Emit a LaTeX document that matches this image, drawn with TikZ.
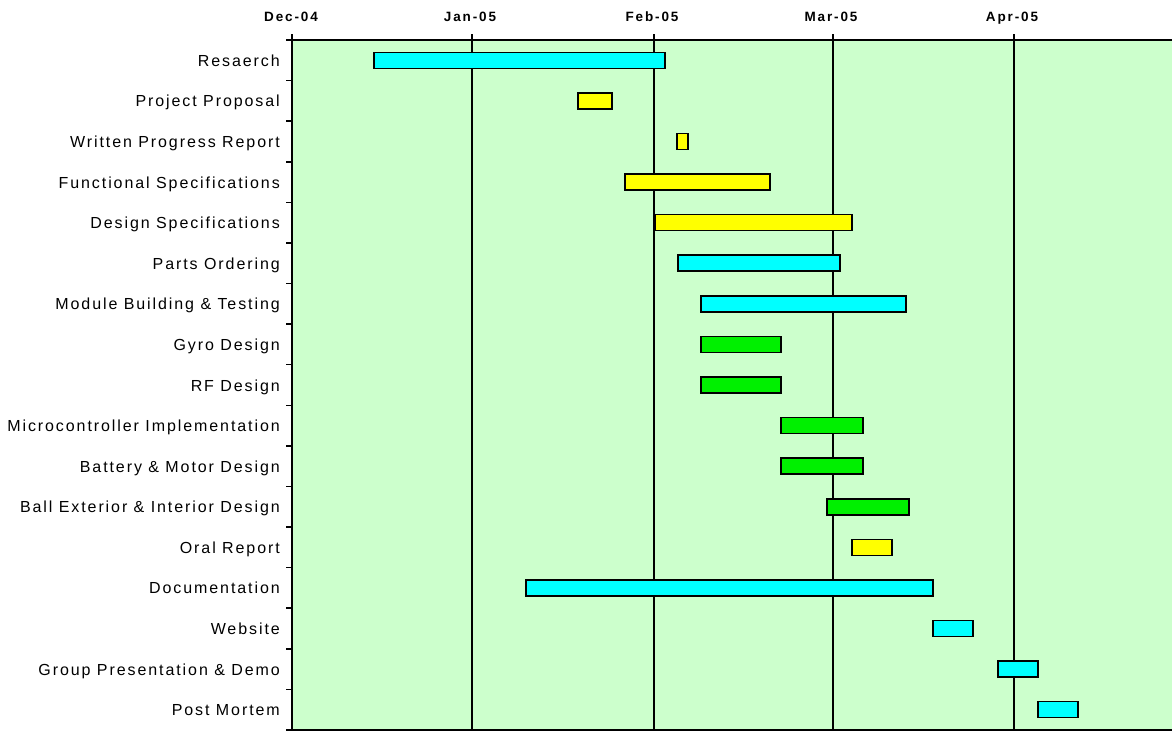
\documentclass[tikz,border=0pt]{standalone}
\usepackage{fontspec}
\setmainfont{Liberation Sans}
\newfontfamily\labfont[LetterSpace=12]{Liberation Sans}
\newfontfamily\monfont[LetterSpace=14]{Liberation Sans}
\definecolor{bgreen}{HTML}{CCFFCC}
\definecolor{bcyan}{HTML}{00FFFF}
\definecolor{byellow}{HTML}{FFFF00}
\definecolor{bgr}{HTML}{00F000}
\tikzset{
  barbox/.style={draw=black, line width=1.5pt, minimum height=16pt, inner sep=0pt, anchor=west},
  lab/.style={anchor=base east, inner sep=0pt, font=\labfont\fontsize{16}{18}\selectfont},
  mon/.style={anchor=base, inner sep=0pt, font=\monfont\fontsize{13.5}{15}\selectfont\bfseries},
  grid/.style={line width=1.5pt, black},
}
\newcommand{\ganttrow}[6]{% name, row, x1, x2, color, label
  \pgfmathsetmacro{\yy}{40+40.588*(#2-0.5)}
  \node[lab] (l#1) at (280,\yy+6) {#6};
  \pgfmathsetmacro{\ww}{#4-#3}
  \node[barbox, fill=#5, minimum width=\ww pt] (b#1) at (#3,\yy) {};
}
\begin{document}
\begin{tikzpicture}[x=1pt,y=-1pt]
\useasboundingbox (0,0) rectangle (1172,732);
\fill[white] (0,0) rectangle (1172,732);
\fill[bgreen] (292,40) rectangle (1172,730);
% month grid
\foreach \xm in {472,654,833,1014}{
  \draw[grid] (\xm,34) -- (\xm,730);
}
\foreach \xm/\nm/\tx in {291/dec/Dec-04,470/jan/Jan-05,652/feb/Feb-05,831/mar/Mar-05,1012/apr/Apr-05}{
  \node[mon] (m\nm) at (\xm,21) {\tx};
}
% axes
\draw[grid] (292,34) -- (292,730) -- (1172,730);
\draw[grid] (292,40) -- (1172,40);
\foreach \k in {0,...,17}{
  \draw[grid] (286,{40+40.588*\k}) -- (292,{40+40.588*\k});
}
\ganttrow{a}{1}{373}{664}{bcyan}{Resaerch}
\ganttrow{b}{2}{577}{611}{byellow}{Project Proposal}
\ganttrow{c}{3}{676}{687}{byellow}{Written Progress Report}
\ganttrow{d}{4}{624}{769}{byellow}{Functional Specifications}
\ganttrow{e}{5}{654}{851}{byellow}{Design Specifications}
\ganttrow{f}{6}{677}{839}{bcyan}{Parts Ordering}
\ganttrow{g}{7}{700}{905}{bcyan}{Module Building \& Testing}
\ganttrow{h}{8}{700}{780}{bgr}{Gyro Design}
\ganttrow{i}{9}{700}{780}{bgr}{RF Design}
\ganttrow{j}{10}{780}{862}{bgr}{Microcontroller Implementation}
\ganttrow{k}{11}{780}{862}{bgr}{Battery \& Motor Design}
\ganttrow{l}{12}{826}{908}{bgr}{Ball Exterior \& Interior Design}
\ganttrow{m}{13}{851}{891}{byellow}{Oral Report}
\ganttrow{n}{14}{525}{932}{bcyan}{Documentation}
\ganttrow{o}{15}{932}{972}{bcyan}{Website}
\ganttrow{p}{16}{997}{1037}{bcyan}{Group Presentation \& Demo}
\ganttrow{q}{17}{1037}{1077}{bcyan}{Post Mortem}
\end{tikzpicture}
\end{document}
